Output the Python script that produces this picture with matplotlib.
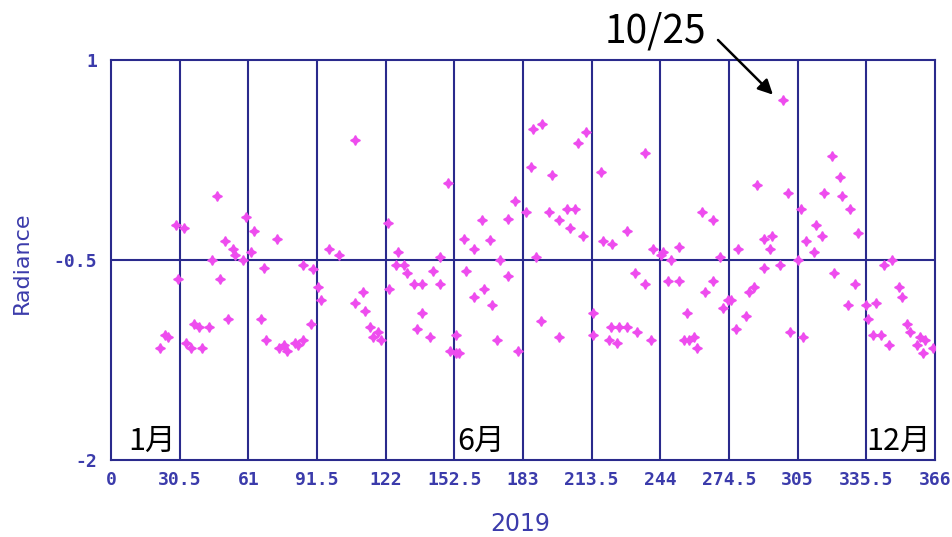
import matplotlib
matplotlib.use("Agg")
import matplotlib.pyplot as plt

# day of year (2019) and radiance
days = [21.8, 24.1, 25.2, 28.9, 29.9, 32.4, 33.3, 35.7, 36.9, 39.1,
        40.4, 43.7, 44.9, 46.9, 48.4, 50.6, 51.8, 54.1, 55.2, 58.8,
        59.8, 62.2, 63.4, 66.8, 67.8, 69.0, 73.7, 74.8, 77.0, 78.2,
        81.9, 83.1, 85.1, 85.1, 88.7, 89.9, 91.9, 93.1, 96.7, 101.3,
        108.2, 108.4, 111.8, 112.8, 115.0, 116.2, 118.6, 119.9, 123.2, 123.3,
        126.6, 127.5, 130.1, 131.3, 134.6, 135.8, 138.1, 138.1, 141.7, 142.9,
        146.3, 146.3, 149.7, 150.6, 153.2, 153.2, 154.4, 156.8, 157.7, 161.2,
        161.2, 164.8, 165.8, 168.2, 169.4, 171.3, 172.8, 176.2, 176.2, 179.4,
        180.6, 184.2, 186.4, 187.6, 188.8, 191.1, 191.3, 194.7, 195.7, 199.2,
        199.1, 202.7, 203.9, 206.2, 207.4, 209.5, 210.8, 214.0, 214.0, 217.6,
        218.7, 221.1, 222.2, 222.4, 224.6, 225.8, 229.1, 229.1, 232.6, 233.8,
        237.2, 237.3, 239.7, 240.6, 244.1, 245.2, 247.6, 248.8, 252.1, 252.1,
        254.5, 255.7, 256.9, 258.9, 260.1, 262.5, 263.7, 267.3, 267.3, 270.6,
        271.7, 273.9, 275.3, 277.6, 278.6, 282.2, 283.2, 285.6, 286.8, 290.2,
        290.2, 292.6, 293.7, 297.1, 298.3, 300.6, 301.7, 305.0, 306.3, 307.5,
        308.7, 312.1, 313.3, 315.6, 316.6, 320.1, 321.3, 323.7, 324.7, 327.2,
        328.2, 330.6, 331.8, 335.2, 336.4, 338.6, 339.9, 342.0, 343.3, 345.4,
        346.8, 350.0, 351.3, 353.6, 354.8, 358.1, 359.3, 360.5, 361.7, 365.2]
radiance = [-1.16, -1.06, -1.08, -0.24, -0.64, -0.26, -1.12, -1.16, -0.98, -1.00,
            -1.16, -1.00, -0.50, -0.02, -0.64, -0.36, -0.94, -0.42, -0.46, -0.50,
            -0.18, -0.44, -0.28, -0.94, -0.56, -1.10, -0.34, -1.16, -1.14, -1.18,
            -1.12, -1.14, -1.10, -0.54, -0.98, -0.57, -0.70, -0.80, -0.42, -0.46,
            -0.82, 0.40, -0.74, -0.88, -1.00, -1.08, -1.04, -1.10, -0.22, -0.72,
            -0.54, -0.44, -0.54, -0.60, -0.68, -1.02, -0.68, -0.90, -1.08, -0.58,
            -0.48, -0.68, 0.08, -1.18, -1.06, -1.20, -1.20, -0.34, -0.58, -0.42,
            -0.78, -0.20, -0.72, -0.35, -0.84, -1.10, -0.50, -0.19, -0.62, -0.06,
            -1.18, -0.14, 0.20, 0.48, -0.48, -0.96, 0.52, -0.14, 0.14, -0.20,
            -1.08, -0.12, -0.26, -0.12, 0.38, -0.32, 0.46, -0.90, -1.06, 0.16,
            -0.36, -1.10, -1.00, -0.38, -1.12, -1.00, -0.28, -1.00, -0.60, -1.04,
            0.30, -0.68, -1.10, -0.42, -0.46, -0.44, -0.66, -0.50, -0.40, -0.66,
            -1.10, -0.90, -1.10, -1.08, -1.16, -0.14, -0.74, -0.20, -0.66, -0.48,
            -0.86, -0.80, -0.80, -1.02, -0.42, -0.92, -0.74, -0.70, 0.06, -0.34,
            -0.56, -0.42, -0.32, -0.54, 0.70, 0.00, -1.04, -0.50, -0.12, -1.08,
            -0.36, -0.44, -0.24, -0.32, 0.00, 0.28, -0.60, 0.12, -0.02, -0.84,
            -0.12, -0.68, -0.30, -0.84, -0.94, -1.06, -0.82, -1.06, -0.54, -1.14,
            -0.50, -0.70, -0.78, -0.98, -1.04, -1.14, -1.08, -1.20, -1.10, -1.16]

x_ticks = [0, 30.5, 61, 91.5, 122, 152.5, 183, 213.5, 244, 274.5, 305, 335.5, 366]
x_labels = ["0", "30.5", "61", "91.5", "122", "152.5", "183", "213.5",
            "244", "274.5", "305", "335.5", "366"]
y_ticks = [-2, -0.5, 1]
y_labels = ["-2", "-0.5", "1"]
months = [("1月", 7.5), ("6月", 154.0), ("12月", 335.3)]

frame_col = "#2a2a8c"
label_col = "#3b3bab"
W, H = 952, 537

fig = plt.figure(figsize=(W / 100, H / 100), dpi=100)
ax = fig.add_axes([111 / W, 1 - 460 / H, 824 / W, 400 / H])

ax.set_xlim(0, 366)
ax.set_ylim(-2, 1)

for xv in x_ticks[1:-1]:
    ax.axvline(xv, color=frame_col, lw=1.5, zorder=1)
ax.axhline(-0.5, color=frame_col, lw=1.5, zorder=1)

ax.plot(days, radiance, linestyle="none", marker=(4, 1, 0), ms=7,
        color="#ee4cee", mec="#ee4cee", zorder=3)

for s in ax.spines.values():
    s.set_color(frame_col)
    s.set_linewidth(1.5)

ax.set_xticks(x_ticks)
ax.set_xticklabels(x_labels)
ax.set_yticks(y_ticks)
ax.set_yticklabels(y_labels)
ax.tick_params(length=0, colors=label_col, labelsize=13)
ax.tick_params(axis="x", pad=8)
ax.tick_params(axis="y", pad=10)
for t in ax.get_xticklabels() + ax.get_yticklabels():
    t.set_family("DejaVu Sans Mono")
    t.set_weight("bold")

fig.text(22 / W, 1 - 263 / H, "Radiance", rotation=90, ha="center", va="center",
         color=label_col, fontsize=16, family="DejaVu Sans")
fig.text(520 / W, 1 - 524 / H, "2019", ha="center", va="center",
         color=label_col, fontsize=17, family="DejaVu Sans")

for txt, xv in months:
    ax.text(xv, -1.975, txt, ha="left", va="bottom", fontsize=22,
            family=["Noto Sans CJK JP", "DejaVu Sans"], color="black", zorder=4)

# highlight of 10/25
fig.text(605 / W, 1 - 42 / H, "10/25", ha="left", va="baseline", fontsize=28,
         family=["Noto Sans CJK JP", "DejaVu Sans"], color="black")
ax.annotate("", xy=(294.0, 0.74), xycoords="data",
            xytext=(718, H - 40), textcoords="figure pixels",
            arrowprops=dict(arrowstyle="-|>", color="black", lw=1.8,
                            mutation_scale=22, shrinkA=0, shrinkB=0),
            annotation_clip=False)

fig.savefig("out.png", dpi=100)
